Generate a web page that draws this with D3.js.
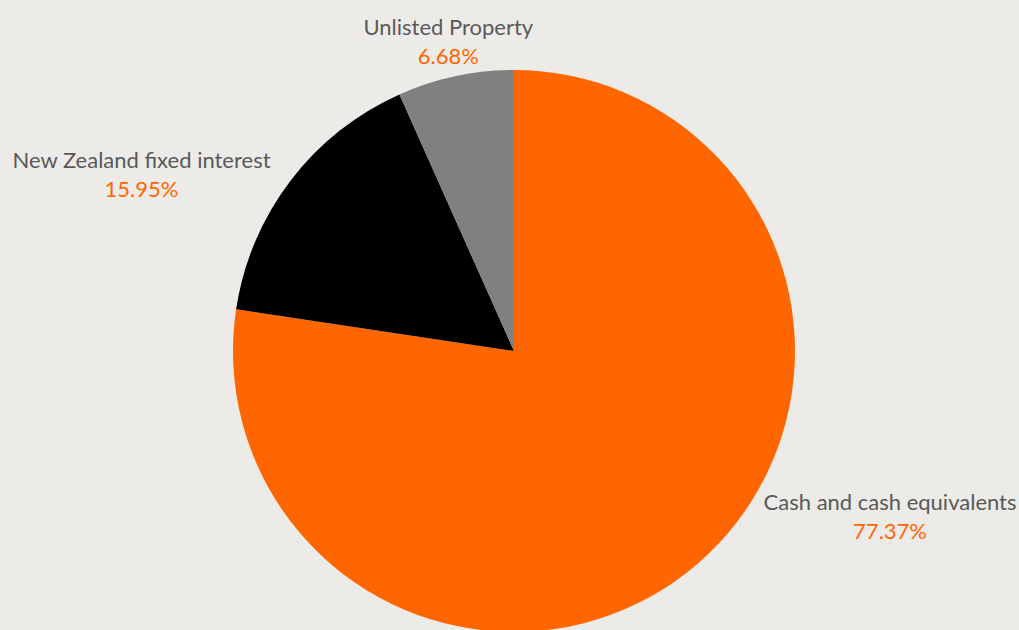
<!DOCTYPE html>
<html>
<head>
<meta charset="utf-8">
<script src="https://cdn.jsdelivr.net/npm/d3@7"></script>
<style>
    html, body { margin: 0; padding: 0; background: #EDEBE8; }
    svg { display: block; }
</style>
</head>
<body>
<svg id="chart"></svg>
<script>
// chart values
let categories = ["Cash and cash equivalents", "New Zealand fixed interest", "Unlisted Property"];
let shares = [77.37, 15.95, 6.68];
let percentLabels = ["77.37%", "15.95%", "6.68%"];

// where each label sits: angle (deg from north) and distance from the centre
let labelAngle = [113.8, 295.3, 348];
let labelDist = [411, 412, 316];

let w = 1019,
    h = 630,
    cx = 514,
    cy = 351,
    radius = 281;

let palette = ["#FF6600", "#000000", "#808080"];

let svg = d3.select("#chart")
    .attr("width", w)
    .attr("height", h);

svg.append("rect")
    .attr("width", w)
    .attr("height", h)
    .attr("fill", "#EDEBE8");

let pie = d3.pie()
    .sort(null)
    .value(function (d) { return d; });

let arc = d3.arc()
    .innerRadius(0)
    .outerRadius(radius);

let g = svg.append("g")
    .attr("transform", "translate(" + cx + "," + cy + ")");

let arcs = pie(shares);

g.selectAll("path")
    .data(arcs)
    .enter()
    .append("path")
    .attr("d", arc)
    .attr("fill", function (d, i) { return palette[i]; });

let labels = g.selectAll("g.label")
    .data(arcs)
    .enter()
    .append("g")
    .attr("class", "label")
    .attr("transform", function (d, i) {
        let a = labelAngle[i] * Math.PI / 180;
        let x = labelDist[i] * Math.sin(a),
            y = -labelDist[i] * Math.cos(a);
        return "translate(" + x + "," + y + ")";
    })
    .style("font-family", "Lato, 'Open Sans', sans-serif")
    .style("font-size", "22px")
    .attr("text-anchor", "middle");

labels.append("text")
    .attr("y", -7)
    .attr("fill", "#595959")
    .text(function (d, i) { return categories[i]; });

labels.append("text")
    .attr("y", 22)
    .attr("fill", "#FF6600")
    .text(function (d, i) { return percentLabels[i]; });
</script>
</body>
</html>
